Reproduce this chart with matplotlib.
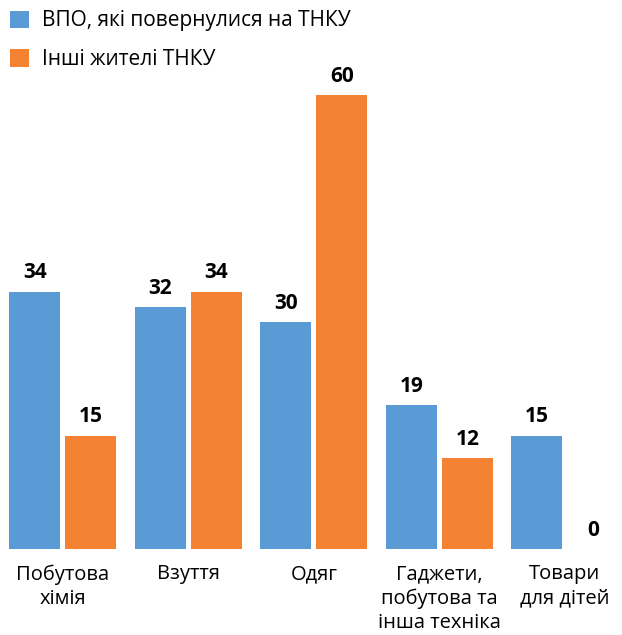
import matplotlib.pyplot as plt
import numpy as np

plt.rcParams['font.family'] = ['Open Sans', 'DejaVu Sans']

categories = ["Побутова\nхімія", "Взуття", "Одяг", "Гаджети,\nпобутова та\nінша техніка", "Товари\nдля дітей"]
idp_returned = [34, 32, 30, 19, 15]
other_residents = [15, 34, 60, 12, 0]
series_names = ["ВПО, які повернулися на ТНКУ", "Інші жителі ТНКУ"]

BLUE = "#5B9BD5"
ORANGE = "#F58233"

fig = plt.figure(figsize=(6.22, 6.35), dpi=100)
ax = fig.add_axes([0.0, 0.1354, 627.5 / 622, 0.7150])

x = np.arange(len(categories))
w = 0.406
off = 0.223

b1 = ax.bar(x - off, idp_returned, w, color=BLUE, label=series_names[0])
b2 = ax.bar(x + off, other_residents, w, color=ORANGE, label=series_names[1])

for bars, vals in ((b1, idp_returned), (b2, other_residents)):
    for b, v in zip(bars, vals):
        ax.annotate(str(v), (b.get_x() + b.get_width() / 2, v),
                    xytext=(0, 6), textcoords="offset points",
                    ha="center", va="bottom", fontsize=15, fontweight="bold")

ax.set_xlim(-0.5, 4.5)
ax.set_ylim(0, 60)
ax.set_xticks(x)
ax.set_xticklabels(categories, fontsize=14.5, linespacing=1.28)
ax.tick_params(axis="x", length=0, pad=11)
ax.set_yticks([])
for s in ax.spines.values():
    s.set_visible(False)

# legend in the top-left corner
fig.legend(handles=[b1, b2], loc="upper left", bbox_to_anchor=(0.0, 1.0),
           frameon=False, fontsize=15, handlelength=0.9, handleheight=0.9,
           handletextpad=0.6, labelspacing=0.85, borderaxespad=0.1)

fig.savefig("out.png", dpi=100)
